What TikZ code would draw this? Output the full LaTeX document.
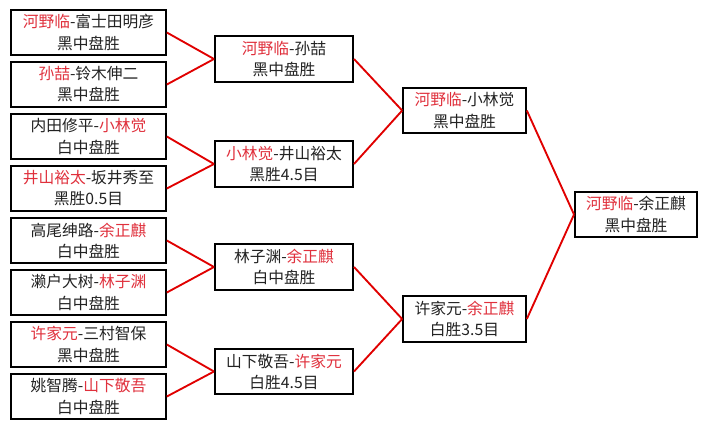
\documentclass[tikz,border=0pt]{standalone}
\usepackage{fontspec}
\newfontfamily\cjk{Noto Sans CJK SC}

\begin{document}
\begin{tikzpicture}[
    x=0.75pt,
    y=-0.75pt,
    line join=miter,
    every node/.style={font=\cjk\fontsize{11.8}{15.8}\selectfont},
]
\definecolor{bkRed}{HTML}{E0303C}
\definecolor{bkLine}{HTML}{E00000}
\definecolor{bkText}{HTML}{222222}

\tikzset{
    game/.style={draw=black,line width=1.5pt,fill=white,align=center,inner sep=0pt,minimum height=34pt,text=bkText},
    roundone/.style={game,minimum width=116pt},
    roundtwo/.style={game,minimum width=103.5pt},
    roundthree/.style={game,minimum width=92pt},
    final/.style={game,minimum width=91.5pt},
    link/.style={draw=bkLine,line width=1.4pt},
}

\newcommand{\win}[1]{\textcolor{bkRed}{#1}}

\useasboundingbox (0,0) rectangle (708,429);

% first round
\node[roundone] (ga) at (88.5,32.5) {\win{河野临}-富士田明彦\\黑中盘胜};
\node[roundone] (gb) at (88.5,84.5) {\win{孙喆}-铃木伸二\\黑中盘胜};
\node[roundone] (gc) at (88.5,136.5) {内田修平-\win{小林觉}\\白中盘胜};
\node[roundone] (gd) at (88.5,188.5) {\win{井山裕太}-坂井秀至\\黑胜0.5目};
\node[roundone] (ge) at (88.5,240.5) {高尾绅路-\win{余正麒}\\白中盘胜};
\node[roundone] (gf) at (88.5,292.5) {濑户大树-\win{林子渊}\\白中盘胜};
\node[roundone] (gg) at (88.5,344.5) {\win{许家元}-三村智保\\黑中盘胜};
\node[roundone] (gh) at (88.5,396.5) {姚智腾-\win{山下敬吾}\\白中盘胜};

% second round
\node[roundtwo] (ha) at (284,59) {\win{河野临}-孙喆\\黑中盘胜};
\node[roundtwo] (hb) at (284,164) {\win{小林觉}-井山裕太\\黑胜4.5目};
\node[roundtwo] (hc) at (284,267) {林子渊-\win{余正麒}\\白中盘胜};
\node[roundtwo] (hd) at (284,371.5) {山下敬吾-\win{许家元}\\白胜4.5目};

% semi finals
\node[roundthree] (ka) at (464.5,110.5) {\win{河野临}-小林觉\\黑中盘胜};
\node[roundthree] (kb) at (464.5,319) {许家元-\win{余正麒}\\白胜3.5目};

% final
\node[final] (fin) at (636,214.5) {\win{河野临}-余正麒\\黑中盘胜};

\foreach \a/\b in {ga/ha,gb/ha,gc/hb,gd/hb,ge/hc,gf/hc,gg/hd,gh/hd,ha/ka,hb/ka,hc/kb,hd/kb,ka/fin,kb/fin} {
    \draw[link] (\a.east) -- (\b.west);
}
\end{tikzpicture}
\end{document}
